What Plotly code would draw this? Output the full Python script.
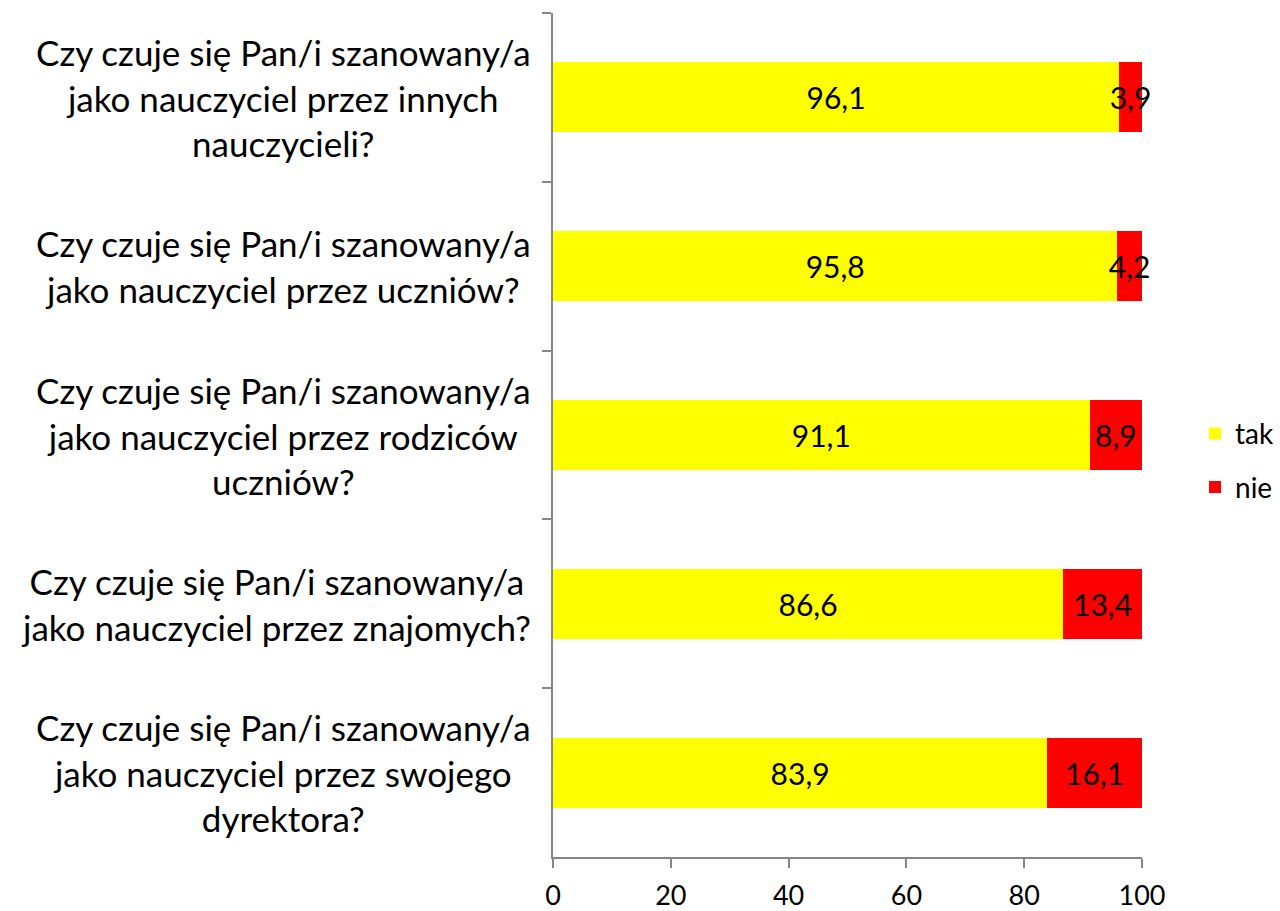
import plotly.graph_objects as go

categories = [
    "Czy czuje się Pan/i szanowany/a<br>jako nauczyciel przez innych<br>nauczycieli?",
    "Czy czuje się Pan/i szanowany/a<br>jako nauczyciel przez uczniów?",
    "Czy czuje się Pan/i szanowany/a<br>jako nauczyciel przez rodziców<br>uczniów?",
    "Czy czuje się Pan/i szanowany/a<br>jako nauczyciel przez znajomych?",
    "Czy czuje się Pan/i szanowany/a<br>jako nauczyciel przez swojego<br>dyrektora?",
]
tak = [96.1, 95.8, 91.1, 86.6, 83.9]
nie = [3.9, 4.2, 8.9, 13.4, 16.1]
x_ticks = [0, 20, 40, 60, 80, 100]

FONT = "Lato"

def fmt(v):
    return f"{v:.1f}".replace(".", ",")

fig = go.Figure()
fig.add_trace(go.Bar(
    y=categories, x=tak, orientation="h", name="tak",
    marker=dict(color="#FFFF00", line=dict(width=0)),
    text=[fmt(v) for v in tak], textposition="inside", insidetextanchor="middle",
    textangle=0, constraintext="none",
    textfont=dict(family=FONT, size=30, color="black"),
    legendgroup="a",
))
fig.add_trace(go.Bar(
    y=categories, x=nie, orientation="h", name="nie",
    marker=dict(color="#FF0000", line=dict(width=0)),
    text=[fmt(v) for v in nie], textposition="inside", insidetextanchor="middle",
    textangle=0, constraintext="none",
    textfont=dict(family=FONT, size=30, color="black"),
    legendgroup="b", cliponaxis=False,
))

for c in categories:
    fig.add_annotation(
        x=-0.034, xref="paper", y=c, yref="y", text=c, showarrow=False,
        xanchor="right", yanchor="middle", align="center",
        font=dict(family=FONT, size=35, color="black"),
    )

fig.update_layout(
    barmode="stack", bargap=0.585,
    width=1280, height=911,
    margin=dict(l=553, r=138, t=13, b=54, autoexpand=False),
    plot_bgcolor="white", paper_bgcolor="white",
    font=dict(family=FONT, color="black"),
    legend=dict(x=1.09, y=0.47, xanchor="left", yanchor="middle",
                font=dict(family=FONT, size=28, color="black"),
                traceorder="grouped", tracegroupgap=14,
                itemwidth=30),
    xaxis=dict(range=[0, 100], tickvals=x_ticks, ticktext=[str(v) for v in x_ticks],
               showgrid=False, zeroline=False, showline=True,
               linecolor="#868686", linewidth=2, ticks="outside", ticklen=9,
               tickcolor="#868686", tickwidth=2, ticklabelstandoff=5,
               tickfont=dict(family=FONT, size=27, color="black")),
    yaxis=dict(autorange="reversed", showgrid=False, showline=True,
               linecolor="#868686", linewidth=2, ticks="outside", ticklen=9,
               tickcolor="#868686", tickwidth=2, tickson="boundaries",
               showticklabels=False),
)

fig.write_html("out.html", config={"displayModeBar": False},
               post_script="document.body.style.margin='0';")
